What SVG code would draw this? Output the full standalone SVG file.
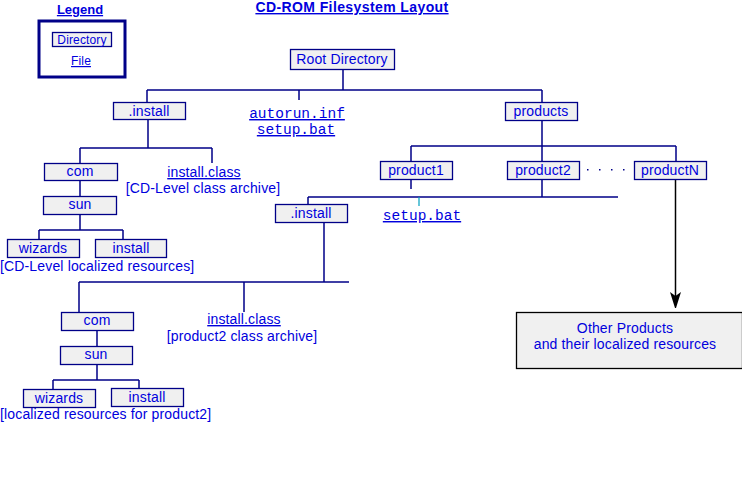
<svg xmlns="http://www.w3.org/2000/svg" width="742" height="501" viewBox="0 0 742 501">
<style>
.t{font-family:"Liberation Sans",Arial,sans-serif;font-size:14px;fill:#0000dd;letter-spacing:0.15px}
.c{text-anchor:middle}
.m{font-family:"Liberation Mono","Courier New",monospace;font-size:14.5px;fill:#0000dd;text-decoration:underline}
.u{text-decoration:underline}
.b{font-weight:bold;font-size:13px;text-decoration:underline;letter-spacing:0}
.box{fill:#f0f0f0;stroke:#000088;stroke-width:1.3}
.ln{stroke:#000088;stroke-width:1.5;fill:none}
</style>
<rect width="742" height="501" fill="#ffffff"/>
<g id="title"><text class="t c b" x="352" y="12" style="font-size:14px;letter-spacing:0.4px">CD-ROM Filesystem Layout</text></g>
<g id="legend">
<text class="t c b" x="80" y="14">Legend</text>
<rect x="39" y="21" width="86" height="56" fill="#ffffff" stroke="#000088" stroke-width="3"/>
<rect class="box" x="52.5" y="32.5" width="59" height="14"/>
<text class="t c" x="82" y="44" style="font-size:12px">Directory</text>
<text class="t c u" x="81" y="65" style="font-size:12px">File</text>
</g>
<g id="connectors">
<path class="ln" d="M343 69V90M147 90H542M299 90V100M147 90V102M542 90V102"/>
<path class="ln" d="M148 119V148M80 148H212M80 148V163M212 148V163M80 181V196M80 214V230M39 230H123M39 230V239M123 230V239"/>
<path class="ln" d="M542 121V146M411 146H676M411 146V161M542 146V161M676 146V161M411 179V189M542 179V197M308 197H618M308 197V204"/>
<path d="M419 197V206" stroke="#00a0c0" stroke-width="1.2"/>
<path class="ln" d="M324 222V282M79 282H349M79 282V312M244 282V312M97 330V346M97 364V380M53 380H139M53 380V389M139 380V388"/>
<path d="M675.5 179V296" stroke="#000000" stroke-width="1.5"/>
<path d="M670 292L675.5 296L681 292L676 308L675 308Z" fill="#000000"/>
<g fill="#000088"><rect x="587" y="169" width="1.5" height="1.5"/><rect x="599" y="169" width="1.5" height="1.5"/><rect x="611" y="169" width="1.5" height="1.5"/><rect x="623" y="169" width="1.5" height="1.5"/></g>
</g>
<g id="root"><rect class="box" x="290.5" y="49.5" width="104" height="20"/><text class="t c" x="342" y="64">Root Directory</text></g>
<g id="autorun"><text class="m c" x="297" y="118">autorun.inf</text><text class="m c" x="296" y="134">setup.bat</text></g>
<g id="install1"><rect class="box" x="113.5" y="102.5" width="72" height="17"/><text class="t c" x="149" y="116">.install</text></g>
<g id="products"><rect class="box" x="505.5" y="102.5" width="72" height="18"/><text class="t c" x="541" y="116">products</text></g>
<g id="com1"><rect class="box" x="44.5" y="163.5" width="73" height="17"/><text class="t c" x="80" y="176">com</text></g>
<g id="installclass1"><text class="t c u" x="204" y="177">install.class</text><text class="t c" x="203" y="193">[CD-Level class archive]</text></g>
<g id="product1"><rect class="box" x="380.5" y="161.5" width="72" height="18"/><text class="t c" x="416" y="175">product1</text></g>
<g id="product2"><rect class="box" x="507.5" y="161.5" width="72" height="18"/><text class="t c" x="543" y="175">product2</text></g>
<g id="productN"><rect class="box" x="634.5" y="161.5" width="72" height="18"/><text class="t c" x="670" y="175">productN</text></g>
<g id="sun1"><rect class="box" x="43.5" y="196.5" width="73" height="18"/><text class="t c" x="80" y="209">sun</text></g>
<g id="setup2"><text class="m c" x="422" y="220">setup.bat</text></g>
<g id="install2"><rect class="box" x="275.5" y="204.5" width="72" height="18"/><text class="t c" x="311" y="218">.install</text></g>
<g id="wizards1"><rect class="box" x="7.5" y="239.5" width="72" height="18"/><text class="t c" x="43" y="253">wizards</text></g>
<g id="installdir1"><rect class="box" x="95.5" y="239.5" width="71" height="18"/><text class="t c" x="131" y="253">install</text></g>
<g id="res1"><text class="t" x="0" y="271">[CD-Level localized resources]</text></g>
<g id="com2"><rect class="box" x="61.5" y="312.5" width="72" height="18"/><text class="t c" x="97" y="325">com</text></g>
<g id="installclass2"><text class="t c u" x="244" y="324">install.class</text><text class="t c" x="242" y="341">[product2 class archive]</text></g>
<g id="sun2"><rect class="box" x="60.5" y="346.5" width="72" height="18"/><text class="t c" x="96" y="359">sun</text></g>
<g id="wizards2"><rect class="box" x="23.5" y="389.5" width="72" height="18"/><text class="t c" x="59" y="403">wizards</text></g>
<g id="installdir2"><rect class="box" x="111.5" y="388.5" width="72" height="18"/><text class="t c" x="147" y="402">install</text></g>
<g id="res2"><text class="t" x="0" y="419">[localized resources for product2]</text></g>
<g id="other"><rect x="516.5" y="312.5" width="226" height="56" fill="#f0f0f0" stroke="#000000" stroke-width="1.3"/><text class="t c" x="625" y="333">Other Products</text><text class="t c" x="625" y="349">and their localized resources</text></g>
</svg>
